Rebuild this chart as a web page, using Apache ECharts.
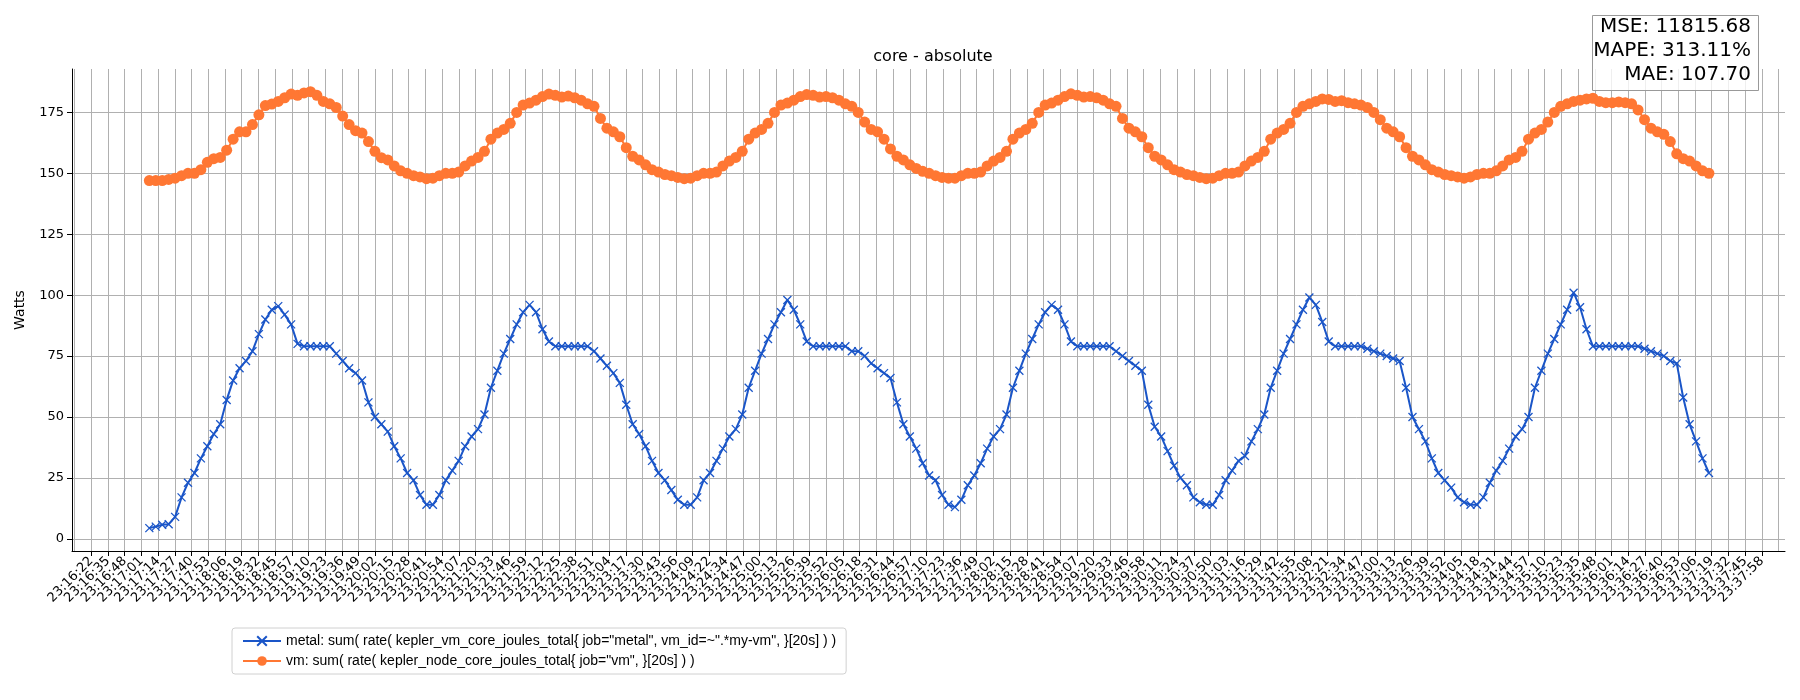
<!DOCTYPE html>
<html>
<head>
<meta charset="utf-8">
<script src="https://cdn.jsdelivr.net/npm/echarts@6/dist/echarts.min.js"></script>
<style>
  html, body { margin: 0; padding: 0; background: #fff; }
  #main { width: 1800px; height: 700px; }
</style>
</head>
<body>
<div id="main"></div>
<script>
// seconds after 23:00:00
var startSec = 1027
var stepSec = 5

var metal = [
  4.4, 5, 5.8, 6, 9, 17, 23, 27, 33, 38,
  43, 47, 57, 65, 70, 73, 77, 84, 90, 94,
  95.5, 92, 88, 80, 79, 79, 79, 79, 79, 76,
  73, 70, 68, 65, 56, 50, 47, 44, 38, 33,
  27, 24, 18, 14, 14, 18, 24, 28, 32, 38,
  42, 45, 51, 62, 69, 76, 82, 88, 93, 96,
  93, 86, 81, 79, 79, 79, 79, 79, 79, 77,
  74, 71, 68, 64, 55, 47, 43, 38, 32, 27,
  24, 20, 16, 14, 14, 17, 24, 27, 32, 37,
  42, 45, 51, 62, 69, 76, 82, 88, 93, 98,
  94, 88, 81, 79, 79, 79, 79, 79, 79, 77,
  77, 75, 72, 70, 68, 66, 56, 47, 42, 37,
  31, 26, 24, 18, 14, 13, 16, 22, 26, 31,
  37, 42, 45, 51, 62, 69, 76, 82, 88, 93,
  96, 94, 88, 81, 79, 79, 79, 79, 79, 79,
  77, 75, 73, 71, 69, 55, 46, 42, 36, 30,
  25, 22, 17, 15, 14, 14, 18, 24, 28, 32,
  34, 40, 45, 51, 62, 69, 76, 82, 88, 94,
  99, 96, 89, 81, 79, 79, 79, 79, 79, 78,
  77, 76, 75, 74, 73, 62, 50, 45, 40, 33,
  27, 24, 21, 17, 15, 14, 14, 17, 23, 28,
  32, 37, 42, 45, 50, 62, 69, 76, 82, 88,
  94, 101, 95, 86, 79, 79, 79, 79, 79, 79,
  79, 79, 78, 77, 76, 75, 73, 72, 58, 47,
  40, 33, 27
]

var vm = [
  147, 147, 147, 147.5, 148, 149, 150, 150, 151.5, 154.5,
  156, 156.5, 159.5, 164, 167, 167, 170, 174, 177.8, 178.4,
  179.5, 181, 182.5, 182, 183, 183.5, 182, 179.5, 178.5, 177,
  173.5, 170, 167.5, 166.5, 163, 159, 156.4, 155.5, 153, 151,
  150, 149, 148.5, 147.8, 148, 149, 150, 150, 150.5, 153,
  155, 156.5, 159, 164, 166.5, 168, 170.5, 175, 178, 178.8,
  180, 181.5, 182.5, 182, 181.3, 181.7, 181, 180, 178.5, 177.5,
  172.5, 168.5, 167, 165, 160.5, 157, 155.5, 153.5, 151.5, 150.5,
  149.5, 149, 148.3, 147.8, 148, 149, 150, 150, 150.5, 153,
  155, 156.5, 159, 164, 166.5, 168, 170.5, 175, 178, 178.8,
  180, 181.5, 182.3, 182, 181.3, 181.5, 181, 180, 178.5, 177.5,
  175, 171, 168, 167, 164, 160, 157, 155.5, 153.5, 152,
  150.8, 150, 149, 148.3, 148, 148, 149, 150, 150, 150.5,
  153, 155, 156.5, 159, 164, 166.5, 168, 170.5, 175, 178,
  178.8, 180, 181.5, 182.6, 182, 181.3, 181.5, 181, 180, 178.5,
  177.5, 172.5, 168.5, 167, 165, 160.5, 157, 155.5, 153.5, 151.5,
  150.5, 149.5, 149, 148.3, 147.8, 148, 149, 150, 150, 150.5,
  153, 155, 156.5, 159, 164, 166.5, 168, 170.5, 175, 177.5,
  178.5, 179.5, 180.5, 180.3, 179.5, 179.8, 179, 178.5, 178, 177,
  175, 172, 168.5, 167, 165, 160.5, 157, 155.5, 153.5, 151.5,
  150.5, 149.5, 149, 148.5, 148, 148.5, 149.5, 150, 150, 151,
  153, 155.5, 156.5, 159, 164, 166.5, 168, 171, 175, 177.5,
  178.5, 179.5, 180, 180.5, 180.8, 179.5, 179, 179, 179.3, 179,
  178.5, 176, 172, 168.5, 167, 166, 163, 158, 156, 155,
  153, 151, 150
]

// x tick positions (seconds after 23:00:00), one every ~13 s
var tickStart = 969
var tickStep = 1322 / 102
var tickValues = []
for (var i = 0; i <= 102; i++) tickValues.push(tickStart + i * tickStep)
var yTicks = [0, 25, 50, 75, 100, 125, 150, 175]
var stats = ['MSE: 11815.68', 'MAPE: 313.11%', 'MAE: 107.70']

function pad (n) { return (n < 10 ? '0' : '') + n }
function clock (sec) {
  var s = Math.round(sec)
  return '23:' + pad(Math.floor(s / 60)) + ':' + pad(s % 60)
}

var metalData = metal.map(function (v, i) { return [startSec + i * stepSec, v] })
var vmData = vm.map(function (v, i) { return [startSec + i * stepSec, v] })

var font = 'DejaVu Sans'
var statsGraphic = [{
  type: 'rect', left: 1592, top: 15, z: 99,
  shape: { width: 166, height: 75 },
  style: { fill: 'rgba(255,255,255,0.8)', stroke: '#999', lineWidth: 1 }
}]
stats.forEach(function (s, i) {
  statsGraphic.push({
    type: 'text', x: 1751, y: 17 + i * 24, z: 100,
    style: { text: s, font: '20px DejaVu Sans', fill: '#000', align: 'right', verticalAlign: 'top' }
  })
})

var myChart = echarts.init(document.getElementById('main'))
var option = {
  animation: false,
  textStyle: { fontFamily: font },
  title: {
    text: 'core - absolute',
    left: 928, top: 44, textAlign: 'center',
    textStyle: { fontFamily: font, fontSize: 16, fontWeight: 'normal', color: '#000' }
  },
  grid: { left: 72, right: 15, top: 69, bottom: 149 },
  xAxis: {
    type: 'value', min: 967, max: 2296,
    axisLine: { onZero: false, lineStyle: { color: '#000' } },
    axisTick: { customValues: tickValues, length: 5, lineStyle: { color: '#000' } },
    axisLabel: {
      customValues: tickValues, rotate: 45, fontSize: 13, color: '#000', fontFamily: font,
      formatter: function (v) { return clock(v) }
    },
    splitLine: { show: true, lineStyle: { color: '#b0b0b0', width: 1 } }
  },
  yAxis: {
    type: 'value', min: -5, max: 192.8,
    name: 'Watts', nameLocation: 'middle', nameGap: 45,
    nameTextStyle: { fontSize: 14, color: '#000', fontFamily: font },
    axisLine: { show: true, lineStyle: { color: '#000' } },
    axisTick: { show: true, customValues: yTicks, length: 5, lineStyle: { color: '#000' } },
    axisLabel: { customValues: yTicks, fontSize: 13, color: '#000', fontFamily: font },
    splitLine: { show: true, lineStyle: { color: '#b0b0b0', width: 1 } }
  },
  legend: {
    orient: 'vertical', left: 232, top: 628,
    itemWidth: 38, itemHeight: 12, itemGap: 6,
    padding: [6, 10], borderColor: '#d0d0d0', borderWidth: 1, borderRadius: 3,
    textStyle: { fontSize: 14, color: '#000', fontFamily: 'Liberation Sans' },
    data: ['metal: sum( rate( kepler_vm_core_joules_total{ job="metal", vm_id=~".*my-vm", }[20s] ) )',
      'vm: sum( rate( kepler_node_core_joules_total{ job="vm", }[20s] ) )']
  },
  graphic: statsGraphic,
  series: [
    {
      name: 'metal: sum( rate( kepler_vm_core_joules_total{ job="metal", vm_id=~".*my-vm", }[20s] ) )',
      type: 'line', data: metalData,
      symbol: 'path://M0,0L10,10M10,0L0,10', symbolSize: 8,
      lineStyle: { color: '#1a55c8', width: 2 },
      itemStyle: { color: '#1a55c8', borderColor: '#1a55c8', borderWidth: 1.3 }
    },
    {
      name: 'vm: sum( rate( kepler_node_core_joules_total{ job="vm", }[20s] ) )',
      type: 'line', data: vmData,
      symbol: 'circle', symbolSize: 11,
      lineStyle: { color: '#ff7733', width: 2 },
      itemStyle: { color: '#ff7733', borderWidth: 0 }
    }
  ]
}
option && myChart.setOption(option)
</script>
</body>
</html>
